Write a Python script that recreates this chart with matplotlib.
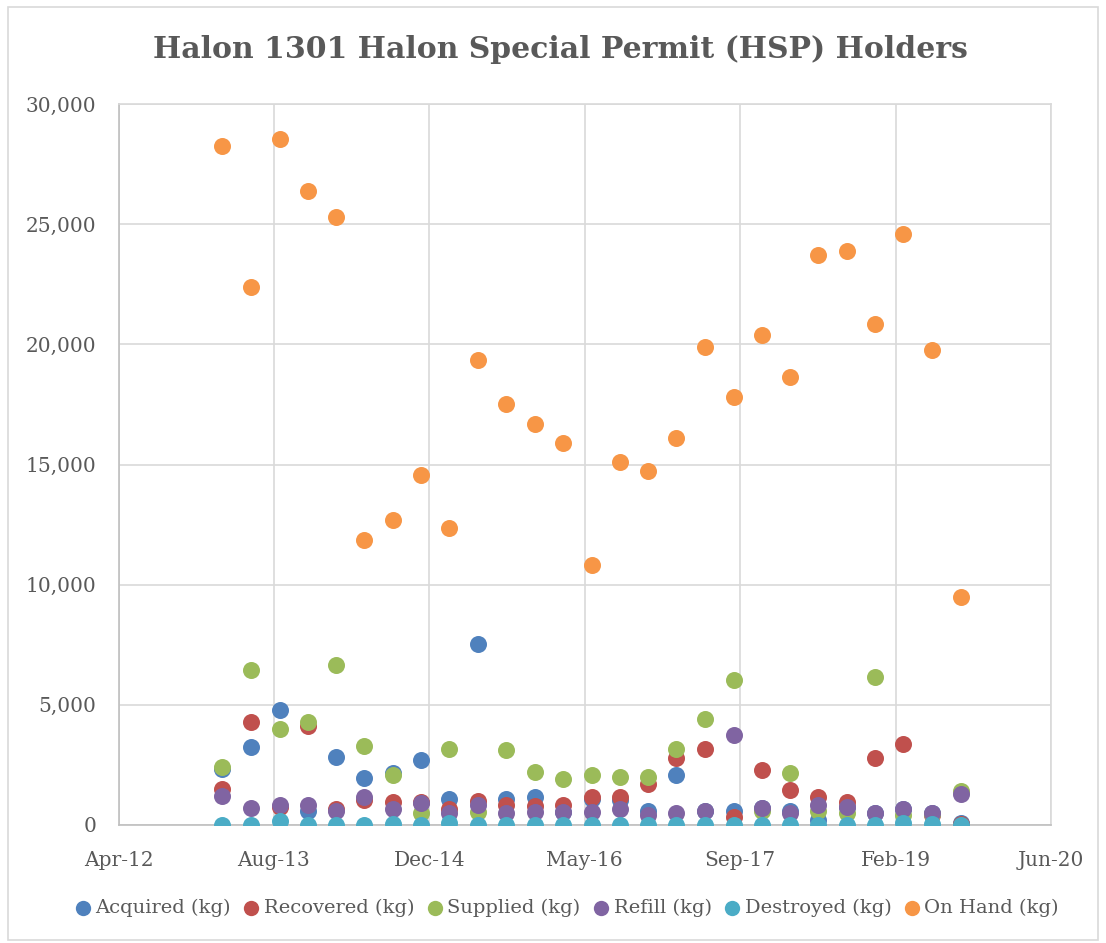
import matplotlib
matplotlib.use("Agg")
import matplotlib.pyplot as plt
import matplotlib.dates as mdates
from matplotlib.patches import Rectangle
from matplotlib.ticker import FuncFormatter
import pandas as pd
import numpy as np

plt.rcParams['font.family'] = ['DejaVu Serif']

dates = ["2013-03-01", "2013-06-01", "2013-09-01", "2013-12-01",
         "2014-03-01", "2014-06-01", "2014-09-01", "2014-12-01",
         "2015-03-01", "2015-06-01", "2015-09-01", "2015-12-01",
         "2016-03-01", "2016-06-01", "2016-09-01", "2016-12-01",
         "2017-03-01", "2017-06-01", "2017-09-01", "2017-12-01",
         "2018-03-01", "2018-06-01", "2018-09-01", "2018-12-01",
         "2019-03-01", "2019-06-01", "2019-09-01"]

acquired = [2350, 3250, 4800, 600, 2850, 1950, 2150, 2700, 1100, 7550,
            1100, 1150, 550, 1100, 1050, 600, 2100, 600, 600, 700,
            600, 200, 750, 500, 650, 500, 100]
recovered = [1500, 4300, 750, 4100, 650, 1050, 950, 950, 650, 1000,
             850, 800, 850, 1150, 1150, 1700, 2800, 3150, 350, 2300,
             1450, 1150, 950, 2800, 3350, 400, 50]
supplied = [2400, 6450, 4000, 4300, 6650, 3300, 2100, 500, 3150, 550,
            3100, 2200, 1900, 2100, 2000, 2000, 3150, 4400, 6050, 600,
            2150, 600, 500, 6150, 400, 450, 1400]
refill = [1200, 700, 850, 850, 600, 1150, 650, 900, 500, 850,
          500, 550, 550, 550, 650, 400, 500, 600, 3750, 700,
          500, 850, 750, 500, 650, 500, 1300]
destroyed = [0, 0, 150, 0, 0, 0, 50, 0, 100, 0,
             0, 0, 0, 0, 0, 0, 0, 0, 0, 0,
             0, 0, 0, 0, 100, 50, 0]
on_hand = [28250, 22400, 28550, 26400, 25300, 11850, 12700, 14550, 12350, 19350,
           17500, 16700, 15900, 10800, 15100, 14750, 16100, 19900, 17800, 20400,
           18650, 23700, 23900, 20850, 24600, 19750, 9500]

series_names = ["Acquired (kg)", "Recovered (kg)", "Supplied (kg)",
                "Refill (kg)", "Destroyed (kg)", "On Hand (kg)"]
colors = ["#4F81BD", "#C0504D", "#9BBB59", "#8064A2", "#4BACC6", "#F79646"]

x = pd.to_datetime(dates)

fig = plt.figure(figsize=(11.06, 9.43), dpi=100)
ax = fig.add_axes([118.5/1106, 1-825/943, (1051-118.5)/1106, (825-104)/943])

for vals, name, c in zip([acquired, recovered, supplied, refill, destroyed, on_hand],
                         series_names, colors):
    ax.scatter(x, vals, s=150, color=c, label=name, linewidths=0, zorder=3)

start = pd.Timestamp("2012-04-01")
tick_dates = [start + pd.Timedelta(days=500*k) for k in range(7)]
ax.set_xlim(tick_dates[0], tick_dates[-1])
ax.set_xticks(tick_dates)
ax.xaxis.set_major_formatter(mdates.DateFormatter('%b-%y'))
ax.set_ylim(0, 30000)
ax.set_yticks(np.arange(0, 30001, 5000))
ax.yaxis.set_major_formatter(FuncFormatter(lambda v, p: f"{int(v):,}"))

ax.grid(True, color="#D9D9D9", linewidth=1.2, zorder=0)
ax.set_axisbelow(True)
for sp in ax.spines.values():
    sp.set_color("#D9D9D9")
    sp.set_linewidth(1.2)
ax.spines['left'].set_color("#BFBFBF")
ax.spines['bottom'].set_color("#BFBFBF")
ax.tick_params(axis='both', length=0, labelsize=14.5, colors="#595959")
ax.tick_params(axis='y', pad=16)
ax.tick_params(axis='x', pad=19)

fig.text(560/1106, 1-50/943, "Halon 1301 Halon Special Permit (HSP) Holders",
         ha='center', va='center', fontsize=21.5, fontweight='bold', color="#595959")

leg = fig.legend(loc='center', bbox_to_anchor=(565/1106, 1-908/943), ncol=6,
                 frameon=False, fontsize=14, handletextpad=0.05,
                 columnspacing=0.45, markerscale=0.9, borderpad=0, handlelength=1.2)
for t in leg.get_texts():
    t.set_color("#595959")

fig.patches.append(Rectangle((8/1106, 1-940/943), (1098-8)/1106, (940-7)/943,
                             transform=fig.transFigure, fill=False,
                             edgecolor="#D9D9D9", linewidth=1.2))

fig.savefig("out.png", dpi=100)
